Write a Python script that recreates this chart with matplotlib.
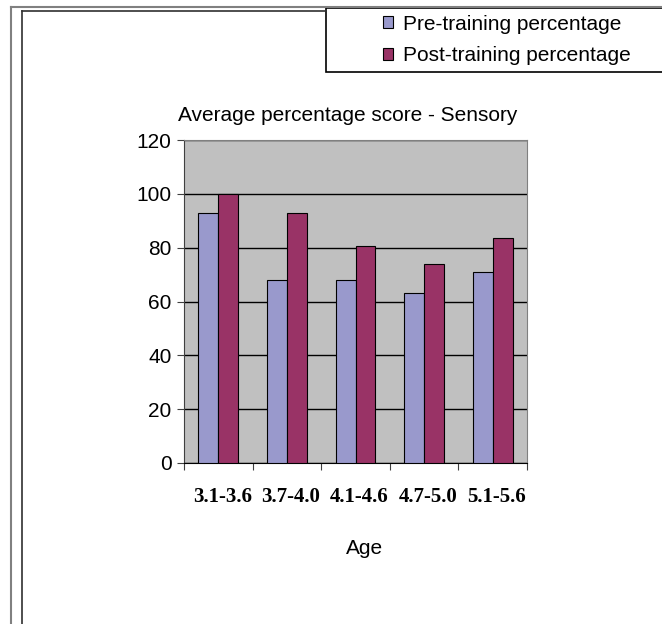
import matplotlib
matplotlib.use("Agg")
import matplotlib.pyplot as plt
import matplotlib.transforms as mtransforms
from matplotlib.patches import Rectangle, Patch
from matplotlib.lines import Line2D
import numpy as np

# data
age_groups = ["3.1-3.6", "3.7-4.0", "4.1-4.6", "4.7-5.0", "5.1-5.6"]
pre_training = [93, 68, 68, 63.3, 70.8]
post_training = [100, 93, 80.8, 74.1, 83.6]

pre_color = "#9999CC"
post_color = "#993366"

W, H = 662, 624
fig = plt.figure(figsize=(W / 100, H / 100), dpi=100)
plt.rcParams["font.family"] = ["Liberation Sans", "DejaVu Sans"]

def px(x, y):
    # pixel coords (from top-left) -> figure fraction
    return x / W, 1 - y / H

# outer frames
fig.add_artist(Line2D([10.5 / W, 10.5 / W], [0, px(0, 6.5)[1]], transform=fig.transFigure, color="#808080", lw=1.5))
fig.add_artist(Line2D([10.5 / W, 1], [px(0, 6.5)[1]] * 2, transform=fig.transFigure, color="#808080", lw=1.5))
fig.add_artist(Line2D([21.5 / W, 21.5 / W], [0, px(0, 10.5)[1]], transform=fig.transFigure, color="#303030", lw=1.2))
fig.add_artist(Line2D([21.5 / W, 326 / W], [px(0, 10.5)[1]] * 2, transform=fig.transFigure, color="#303030", lw=1.2))

ax = fig.add_axes([184 / W, 1 - 463 / H, 343 / W, 323 / H])
ax.set_facecolor("#C0C0C0")

x = np.arange(len(age_groups))
bw = 0.29
ax.bar(x - bw / 2, pre_training, bw, color=pre_color, edgecolor="black", lw=0.8, zorder=3)
ax.bar(x + bw / 2, post_training, bw, color=post_color, edgecolor="black", lw=0.8, zorder=3)

ax.set_xlim(-0.5, len(age_groups) - 0.5)
ax.set_ylim(0, 120)
ax.set_yticks(range(0, 121, 20))
ax.yaxis.grid(True, color="black", lw=1, zorder=1)
ax.set_axisbelow(True)

ax.set_xticks(np.arange(-0.5, len(age_groups), 1))
ax.set_xticklabels([])
ax.set_xticks(x, minor=True)
ax.set_xticklabels(age_groups, minor=True, family=["Liberation Serif"], fontweight="bold", fontsize=15)
ax.tick_params(axis="x", which="minor", length=0, pad=17)
ax.tick_params(axis="x", which="major", length=5, color="#404040", direction="out")
ax.tick_params(axis="y", length=5, labelsize=15, color="#404040", pad=4)
shift = mtransforms.ScaledTranslation(4 / 100, 0, fig.dpi_scale_trans)
for lbl in ax.get_xticklabels(minor=True):
    lbl.set_transform(lbl.get_transform() + shift)

for s in ["top", "right"]:
    ax.spines[s].set_color("#808080")
ax.spines["left"].set_color("#404040")
ax.spines["bottom"].set_color("black")

ax.set_title("Average percentage score - Sensory", fontsize=15, pad=14, x=(348 - 184) / 343)
fig.text(365 / W, 1 - 548 / H, "Age", ha="center", va="center", fontsize=15)

# legend box running off the right edge
fig.add_artist(Rectangle(px(326, 72), (W + 20 - 326) / W, 64 / H, transform=fig.transFigure,
                         facecolor="white", edgecolor="black", lw=1.2, clip_on=False))
handles = [Patch(facecolor=pre_color, edgecolor="black", lw=0.8, label="Pre-training percentage"),
           Patch(facecolor=post_color, edgecolor="black", lw=0.8, label="Post-training percentage")]
fig.legend(handles=handles, loc="upper left", bbox_to_anchor=px(364, -4), frameon=False,
           fontsize=15, handlelength=0.5, handleheight=0.5, handletextpad=0.45, labelspacing=0.6)

fig.savefig("out.png", dpi=100)
